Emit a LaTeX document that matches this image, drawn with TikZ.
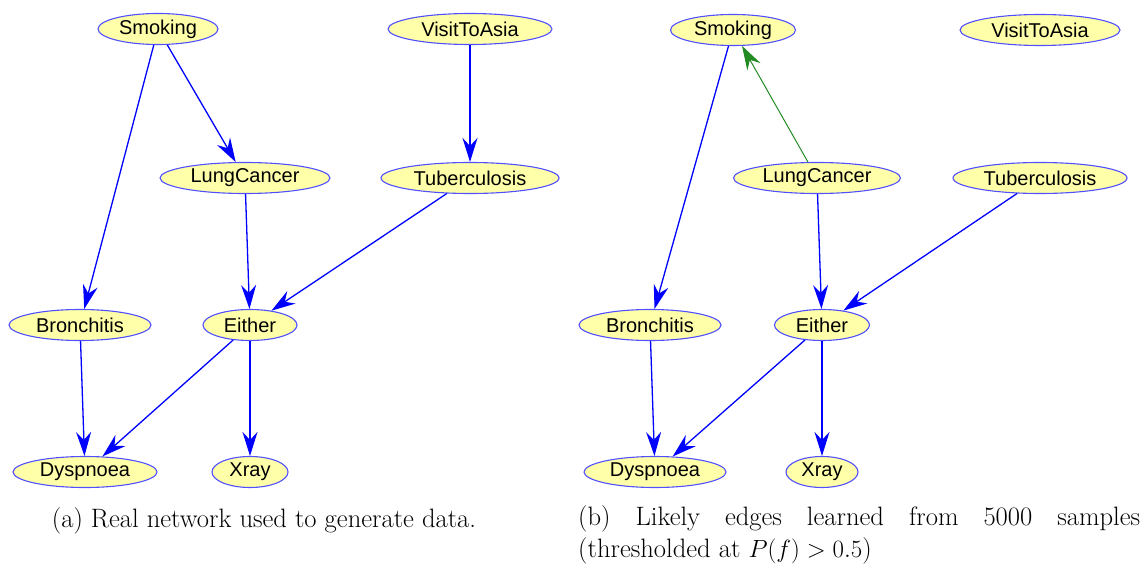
\documentclass[tikz,border=0pt]{standalone}
\usepackage{fontspec}
\newfontfamily\nodefont{Liberation Sans}
\usetikzlibrary{shapes.geometric,arrows.meta}
\definecolor{nodefill}{RGB}{255,255,170}
\definecolor{nodeline}{RGB}{80,80,255}
\definecolor{edgeblue}{RGB}{0,0,255}
\definecolor{edgegreen}{RGB}{34,139,34}
\tikzset{
  nd/.style={ellipse, draw=nodeline, fill=nodefill, line width=1.1pt, minimum height=31pt,
    inner sep=0pt, font=\nodefont\fontsize{20}{23}\selectfont},
  ar/.style={draw=edgeblue, line width=1.3pt, -{Stealth[length=24pt,width=15pt,inset=8pt]}},
  arg/.style={ar, draw=edgegreen, line width=1pt},
  captext/.style={font=\fontsize{26.6}{32}\selectfont}
}
\begin{document}
\begin{tikzpicture}[x=1pt,y=-1pt]
\useasboundingbox (0,0) rectangle (1145,564);
% left panel
\node[nd, minimum width=120] (smkA) at (158,29) {Smoking};
\node[nd, minimum width=164] (visA) at (470,29) {VisitToAsia};
\node[nd, minimum width=170] (lcA) at (245,178) {LungCancer};
\node[nd, minimum width=178] (tbA) at (470,178) {Tuberculosis};
\node[nd, minimum width=142] (brA) at (80,325) {Bronchitis};
\node[nd, minimum width=94] (eiA) at (250,325) {Either};
\node[nd, minimum width=144] (dyA) at (85,472) {Dyspnoea};
\node[nd, minimum width=76] (xrA) at (250,472) {Xray};
\draw[ar] (smkA) -- (brA);
\draw[ar] (smkA) -- (lcA);
\draw[ar] (visA) -- (tbA);
\draw[ar] (lcA) -- (eiA);
\draw[ar] (tbA) -- (eiA);
\draw[ar] (brA) -- (dyA);
\draw[ar] (eiA) -- (dyA);
\draw[ar] (eiA) -- (xrA);
% right panel
\node[nd, minimum width=125] (smkB) at (733,30) {Smoking};
\node[nd, minimum width=160] (visB) at (1040,30) {VisitToAsia};
\node[nd, minimum width=167] (lcB) at (817,178) {LungCancer};
\node[nd, minimum width=174] (tbB) at (1040,178) {Tuberculosis};
\node[nd, minimum width=142] (brB) at (650,325) {Bronchitis};
\node[nd, minimum width=95] (eiB) at (822,325) {Either};
\node[nd, minimum width=142] (dyB) at (655,472) {Dyspnoea};
\node[nd, minimum width=72] (xrB) at (822,472) {Xray};
\draw[ar] (smkB) -- (brB);
\draw[arg] (lcB) -- (smkB);
\draw[ar] (lcB) -- (eiB);
\draw[ar] (tbB) -- (eiB);
\draw[ar] (brB) -- (dyB);
\draw[ar] (eiB) -- (dyB);
\draw[ar] (eiB) -- (xrB);
% captions
\node[captext, anchor=base] (capA) at (264,527) {(a) Real network used to generate data.};
\node[captext, anchor=north west, text width=562pt, align=justify, inner sep=0pt] (capB) at (578,505)
  {(b) Likely edges learned from 5000 samples\linebreak (thresholded at $P(f) > 0.5$)};
\end{tikzpicture}
\end{document}
